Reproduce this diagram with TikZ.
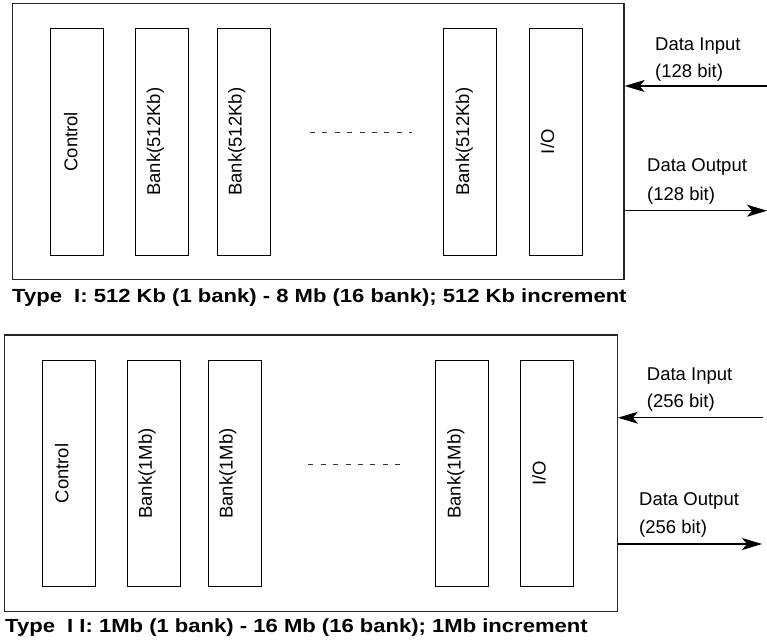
\documentclass[tikz,border=0pt]{standalone}
\usepackage{fontspec}
\setmainfont{Liberation Sans}
\usetikzlibrary{arrows.meta}
\begin{document}
\begin{tikzpicture}[x=1pt,y=-1pt,
  outerbox/.style={draw=black!85,line width=1.2pt,rectangle,inner sep=0pt},
  unitbox/.style={draw=black,line width=1pt,rectangle,inner sep=0pt,minimum width=53pt},
  vtext/.style={rotate=90,inner sep=0pt,font=\fontsize{18.5}{22}\selectfont},
  lbl/.style={anchor=base west,inner sep=0pt,font=\fontsize{18.5}{22}\selectfont},
  caption/.style={anchor=base west,inner sep=0pt},
  dots/.style={draw=black!80,line width=1.4pt,dash pattern=on 5pt off 7.4pt},
  arr/.style={line width=1.2pt,-{Stealth[length=20pt,width=12pt,inset=5pt]}}
]
\useasboundingbox (0,0) rectangle (767,642);

% ---------- Type I ----------
\node[outerbox,minimum width=611.3pt,minimum height=275.7pt] (o1) at (318.35,141.3) {};
\node[unitbox,minimum height=227pt] (c1) at (77.2,141.8) {};
\node[unitbox,minimum height=227pt] (b1a) at (162.35,141.8) {};
\node[unitbox,minimum height=227pt] (b1b) at (243.8,141.8) {};
\node[unitbox,minimum height=227pt] (b1c) at (470.3,141.8) {};
\node[unitbox,minimum height=227pt] (io1) at (555.5,141.8) {};
\node[vtext] (c1t) at ([xshift=-6.5pt]c1.center) {Control};
\node[vtext] (b1at) at ([xshift=-7pt]b1a.center) {Bank(512Kb)};
\node[vtext] (b1bt) at ([xshift=-7pt]b1b.center) {Bank(512Kb)};
\node[vtext] (b1ct) at ([xshift=-6pt]b1c.center) {Bank(512Kb)};
\node[vtext] (io1t) at ([xshift=-8pt]io1.center) {I/O};
\coordinate (d1s) at (310,132.7);
\coordinate (d1e) at (412,132.7);
\draw[dots] (d1s) -- (d1e);
\coordinate (in1) at (767,86);
\coordinate (out1) at (767,210.7);
\draw[arr] (in1) -- (in1 -| o1.east);
\draw[arr] (out1 -| o1.east) -- (out1);
\node[lbl] (l1a) at (655,50) {Data Input};
\node[lbl] (l1b) at (655,77.3) {(128 bit)};
\node[lbl] (l1c) at (647,171.7) {Data Output};
\node[lbl] (l1d) at (647,200) {(128 bit)};
\node[caption] (cap1) at (12,302) {\scalebox{1.16}[1]{\fontsize{19}{22}\selectfont\bfseries Type\ \ I: 512 Kb (1 bank) - 8 Mb (16 bank); 512 Kb increment}};

% ---------- Type II ----------
\node[outerbox,minimum width=613pt,minimum height=276.7pt] (o2) at (310.8,473.35) {};
\node[unitbox,minimum height=226.4pt] (c2) at (68.85,473.5) {};
\node[unitbox,minimum height=226.4pt] (b2a) at (154,473.5) {};
\node[unitbox,minimum height=226.4pt] (b2b) at (234.8,473.5) {};
\node[unitbox,minimum height=226.4pt] (b2c) at (461.8,473.5) {};
\node[unitbox,minimum height=226.4pt] (io2) at (547,473.5) {};
\node[vtext] (c2t) at ([xshift=-7pt]c2.center) {Control};
\node[vtext] (b2at) at ([xshift=-7pt]b2a.center) {Bank(1Mb)};
\node[vtext] (b2bt) at ([xshift=-7pt]b2b.center) {Bank(1Mb)};
\node[vtext] (b2ct) at ([xshift=-6pt]b2c.center) {Bank(1Mb)};
\node[vtext] (io2t) at ([xshift=-8pt]io2.center) {I/O};
\coordinate (d2s) at (308.3,464.3);
\coordinate (d2e) at (403,464.3);
\draw[dots] (d2s) -- (d2e);
\coordinate (in2) at (763,417.7);
\coordinate (out2) at (762,544);
\draw[arr] (in2) -- (in2 -| o2.east);
\draw[arr] (out2 -| o2.east) -- (out2);
\node[lbl] (l2a) at (646.7,380.7) {Data Input};
\node[lbl] (l2b) at (646.7,407.3) {(256 bit)};
\node[lbl] (l2c) at (639,505) {Data Output};
\node[lbl] (l2d) at (639,533.3) {(256 bit)};
\node[caption] (cap2) at (5,632) {\scalebox{1.16}[1]{\fontsize{19}{22}\selectfont\bfseries Type\ \ I I: 1Mb (1 bank) - 16 Mb (16 bank); 1Mb increment}};
\end{tikzpicture}
\end{document}
